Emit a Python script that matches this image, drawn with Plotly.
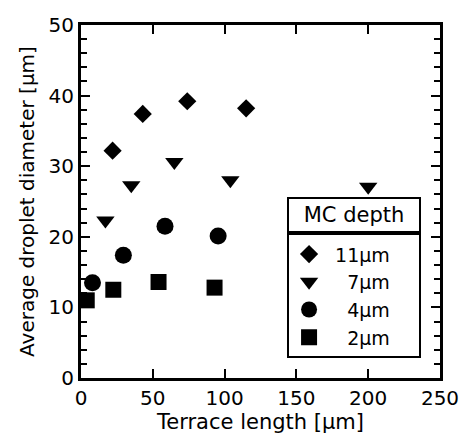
import plotly.graph_objects as go

# Data
x_11 = [22, 43, 74, 115]
y_11 = [32.2, 37.4, 39.2, 38.2]
x_7 = [17, 35, 65, 104, 200]
y_7 = [22.3, 27.3, 30.6, 28.0, 27.1]
x_4 = [8, 29.5, 58.5, 95.5]
y_4 = [13.5, 17.4, 21.5, 20.1]
x_2 = [4, 22.5, 54, 93]
y_2 = [11.0, 12.5, 13.6, 12.8]

legend_title = "MC depth"
NB = "\u00a0"
FS = "\u2007"
series = [
    (NB + "11µm" + NB * 4, x_11, y_11, "diamond", 14),
    (NB + FS + "7µm" + NB * 4, x_7, y_7, "triangle-down", 16),
    (NB + FS + "4µm" + NB * 4, x_4, y_4, "circle", 17),
    (NB + FS + "2µm" + NB * 4, x_2, y_2, "square", 16),
]

FONT = "DejaVu Sans, Liberation Sans, Arial, sans-serif"

fig = go.Figure()
for i, (name, xs, ys, sym, sz) in enumerate(series):
    fig.add_trace(go.Scatter(
        x=xs, y=ys, mode="markers", name=name,
        legendgroup=f"g{i}",
        marker=dict(symbol=sym, size=sz, color="black", line=dict(width=0)),
        cliponaxis=False,
    ))

fig.update_layout(
    width=472, height=439,
    margin=dict(l=81, r=32, t=25, b=61),
    paper_bgcolor="white", plot_bgcolor="white",
    font=dict(family=FONT, size=20, color="black"),
    legend=dict(
        x=0.574, y=0.410, xanchor="left", yanchor="top",
        bgcolor="white", bordercolor="black", borderwidth=2,
        font=dict(size=19, family=FONT, color="black"),
        traceorder="grouped", tracegroupgap=0,
    ),
    showlegend=True,
)

fig.add_annotation(
    text=legend_title, xref="paper", yref="paper",
    x=0.574, y=0.513, xanchor="left", yanchor="top",
    showarrow=False, align="center", valign="middle",
    width=130, height=32, borderpad=0,
    bordercolor="black", borderwidth=2, bgcolor="white",
    font=dict(size=21, family=FONT, color="black"),
)

fig.update_xaxes(
    range=[0, 250], dtick=50, tick0=0, automargin=False,
    showline=True, linewidth=3, linecolor="black", mirror="ticks",
    ticks="inside", ticklen=9, tickwidth=2, tickcolor="black",
    showgrid=False, zeroline=False,
    tickfont=dict(size=20, family=FONT),
    title=dict(text="Terrace length [µm]", font=dict(size=21), standoff=4),
)
fig.update_yaxes(
    range=[0, 50], dtick=10, tick0=0, automargin=False,
    showline=True, linewidth=3, linecolor="black", mirror="ticks",
    ticks="inside", ticklen=9, tickwidth=2, tickcolor="black",
    minor=dict(dtick=2, ticks="inside", ticklen=6, tickwidth=2, tickcolor="black", showgrid=False),
    showgrid=False, zeroline=False,
    tickfont=dict(size=20, family=FONT),
    title=dict(text="Average droplet diameter [µm]", font=dict(size=20), standoff=9),
)

fig.write_html("out.html", config={"displayModeBar": False},
               post_script="document.body.style.margin='0';")
